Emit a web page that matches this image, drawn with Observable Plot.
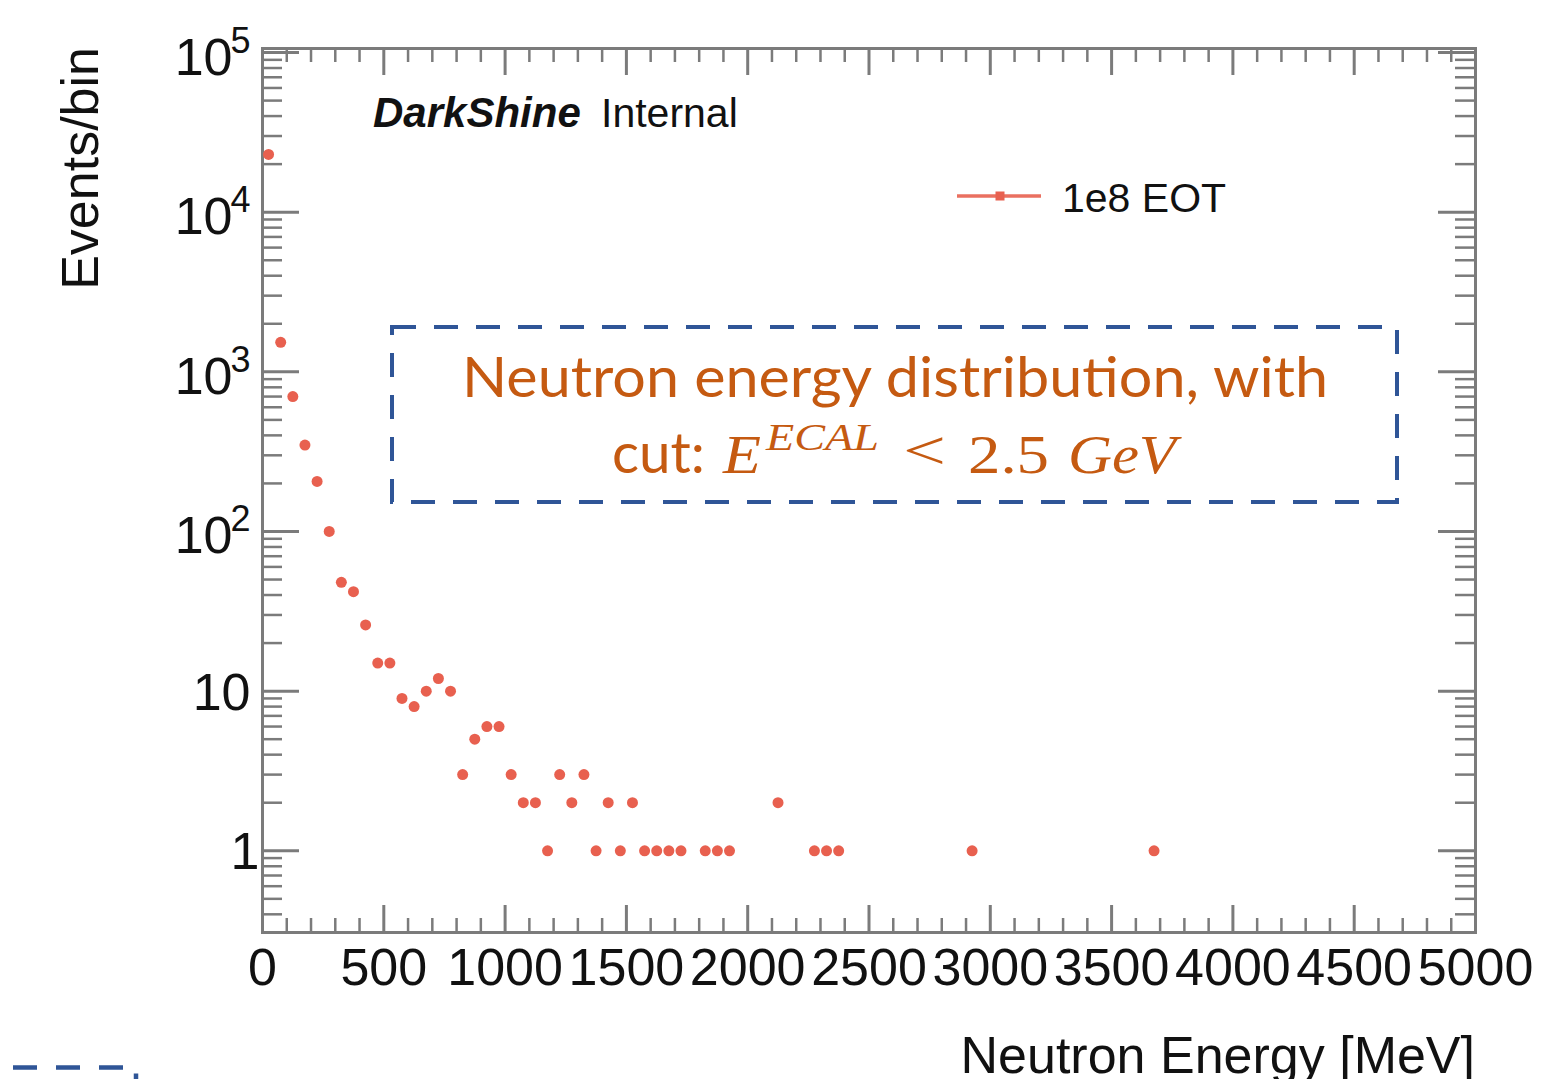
<!DOCTYPE html>
<html>
<head>
<meta charset="utf-8">
<script src="https://cdn.jsdelivr.net/npm/d3@7"></script>
<script src="https://cdn.jsdelivr.net/npm/@observablehq/plot@0.6"></script>
<style>
  html, body { margin: 0; padding: 0; background: #fff; }
  #chart svg { display: block; }
</style>
</head>
<body>
<div id="chart"></div>
<script>
// ---------- data ----------
const binCenters = [25, 75, 125, 175, 225, 275, 325, 375, 425, 475, 525, 575, 625, 675, 725, 775,
  825, 875, 925, 975, 1025, 1075, 1125, 1175, 1225, 1275, 1325, 1375, 1425, 1475, 1525,
  1575, 1625, 1675, 1725, 1825, 1875, 1925, 2125, 2275, 2325, 2375, 2925, 3675];
const counts = [23000, 1530, 700, 348, 206, 100, 48, 42, 26, 15, 15, 9, 8, 10, 12, 10,
  3, 5, 6, 6, 3, 2, 2, 1, 3, 2, 3, 1, 2, 1, 2,
  1, 1, 1, 1, 1, 1, 1, 2, 1, 1, 1, 1, 1];

const xMajorTicks = [0, 500, 1000, 1500, 2000, 2500, 3000, 3500, 4000, 4500, 5000];
const xMinorTicks = d3.range(100, 5000, 100).filter(v => v % 500 !== 0);
const yMajorTicks = [1, 10, 100, 1000, 10000, 100000];
const yMinorTicks = [0.4, 0.5, 0.6, 0.7, 0.8, 0.9,
  2, 3, 4, 5, 6, 7, 8, 9,
  20, 30, 40, 50, 60, 70, 80, 90,
  200, 300, 400, 500, 600, 700, 800, 900,
  2000, 3000, 4000, 5000, 6000, 7000, 8000, 9000,
  20000, 30000, 40000, 50000, 60000, 70000, 80000, 90000];
const yLabelOne = [1];
const yLabelTen = [10];
const yLabelPowers = [{v: 100, e: "2"}, {v: 1000, e: "3"}, {v: 10000, e: "4"}, {v: 100000, e: "5"}];

const seriesName = "1e8 EOT";
const xTitle = "Neutron Energy [MeV]";
const yTitle = "Events/bin";

const data = binCenters.map((x, i) => ({energy: x, events: counts[i]}));

// ---------- layout ----------
const W = 1545, H = 1079;
const mL = 262, mR = 70, mT = 48, mB = 147;
const plotW = W - mL - mR, plotH = H - mT - mB;
const axisColor = "#7b7b7b";
const pointColor = "#e8604f";
const FONT = "'Liberation Sans', Arial, Helvetica, sans-serif";

const chart = Plot.plot({
  width: W, height: H,
  marginLeft: mL, marginRight: mR, marginTop: mT, marginBottom: mB,
  style: {background: "#fff", fontFamily: FONT, overflow: "visible"},
  x: {domain: [0, 5000], axis: null},
  y: {type: "log", domain: [0.3077, 106000], axis: null},
  marks: [
    // bottom ticks
    Plot.ruleX(xMajorTicks, {x: d => d, insetTop: plotH - 27, stroke: axisColor, strokeWidth: 3}),
    Plot.ruleX(xMinorTicks, {x: d => d, insetTop: plotH - 14, stroke: axisColor, strokeWidth: 2.5}),
    // top ticks
    Plot.ruleX(xMajorTicks, {x: d => d, insetBottom: plotH - 27, stroke: axisColor, strokeWidth: 3}),
    Plot.ruleX(xMinorTicks, {x: d => d, insetBottom: plotH - 14, stroke: axisColor, strokeWidth: 2.5}),
    // left ticks
    Plot.ruleY(yMajorTicks, {y: d => d, insetRight: plotW - 37, stroke: axisColor, strokeWidth: 3}),
    Plot.ruleY(yMinorTicks, {y: d => d, insetRight: plotW - 20, stroke: axisColor, strokeWidth: 2.5}),
    // right ticks
    Plot.ruleY(yMajorTicks, {y: d => d, insetLeft: plotW - 37, stroke: axisColor, strokeWidth: 3}),
    Plot.ruleY(yMinorTicks, {y: d => d, insetLeft: plotW - 20, stroke: axisColor, strokeWidth: 2.5}),
    Plot.frame({stroke: axisColor, strokeWidth: 3}),
    // data points
    Plot.dot(data, {x: "energy", y: "events", r: 5.5, fill: pointColor, stroke: "none"}),
    // x tick labels
    Plot.text(xMajorTicks, {x: d => d, text: d => String(d), frameAnchor: "bottom", lineAnchor: "bottom",
      dy: 52, fontSize: 52, fill: "#111", textAnchor: "middle"}),
    // y tick labels
    Plot.text(yLabelOne, {y: d => d, text: d => "1", frameAnchor: "left", textAnchor: "end",
      lineAnchor: "bottom", dx: -3, dy: 18, fontSize: 52, fill: "#111"}),
    Plot.text(yLabelTen, {y: d => d, text: d => "10", frameAnchor: "left", textAnchor: "end",
      lineAnchor: "bottom", dx: -12, dy: 19, fontSize: 52, fill: "#111"}),
    Plot.text(yLabelPowers, {y: "v", text: d => "10", frameAnchor: "left", textAnchor: "end",
      lineAnchor: "bottom", dx: -30, dy: 22, fontSize: 52, fill: "#111"}),
    Plot.text(yLabelPowers, {y: "v", text: "e", frameAnchor: "left", textAnchor: "end",
      lineAnchor: "bottom", dx: -12, dy: 0, fontSize: 36, fill: "#111"})
  ]
});

document.getElementById("chart").appendChild(chart);

// ---------- annotations ----------
const svg = d3.select(chart);

// axis titles
svg.append("text")
  .attr("transform", "translate(98,47) rotate(-90)")
  .attr("text-anchor", "end")
  .attr("font-family", FONT).attr("font-size", 52).attr("fill", "#111")
  .text(yTitle);
svg.append("text")
  .attr("x", 1475).attr("y", 1073)
  .attr("text-anchor", "end")
  .attr("font-family", FONT).attr("font-size", 52).attr("fill", "#111")
  .text(xTitle);

// DarkShine Internal
svg.append("text")
  .attr("x", 373).attr("y", 127).attr("text-anchor", "start")
  .attr("font-family", FONT).attr("font-size", 42).attr("font-weight", "bold").attr("font-style", "italic")
  .attr("fill", "#111")
  .text("DarkShine");
svg.append("text")
  .attr("x", 601).attr("y", 127).attr("text-anchor", "start")
  .attr("font-family", FONT).attr("font-size", 41).attr("fill", "#111")
  .text("Internal");

// legend
svg.append("line")
  .attr("x1", 957).attr("x2", 1041).attr("y1", 196).attr("y2", 196)
  .attr("stroke", pointColor).attr("stroke-width", 3.5).attr("stroke-opacity", 0.9);
svg.append("rect")
  .attr("x", 995.5).attr("y", 191.5).attr("width", 9).attr("height", 9)
  .attr("fill", pointColor);
svg.append("text")
  .attr("x", 1062).attr("y", 212).attr("text-anchor", "start")
  .attr("font-family", FONT).attr("font-size", 41).attr("fill", "#111")
  .text(seriesName);

// dashed annotation box
const blue = "#2f5597";
const orange = "#c55a11";
svg.append("rect")
  .attr("x", 392).attr("y", 327).attr("width", 1005).attr("height", 175)
  .attr("fill", "none").attr("stroke", blue).attr("stroke-width", 4)
  .attr("stroke-dasharray", "24 18");

// bottom-left fragment of another dashed box
svg.append("path")
  .attr("d", "M -30 1067.5 H 136 V 1110")
  .attr("fill", "none").attr("stroke", blue).attr("stroke-width", 4.5)
  .attr("stroke-dasharray", "24 19");

// orange text
const SANS = "Lato, 'Open Sans', 'Noto Sans', sans-serif";
const SERIF = "'Liberation Serif', 'DejaVu Serif', serif";
function t(x, y, str, opts) {
  const el = svg.append("text")
    .attr("x", x).attr("y", y).attr("text-anchor", "start")
    .attr("font-family", opts.family).attr("font-size", opts.size)
    .attr("fill", orange)
    .text(str);
  if (opts.italic) el.attr("font-style", "italic");
  if (opts.len) el.attr("textLength", opts.len).attr("lengthAdjust", "spacingAndGlyphs");
  return el;
}
t(462, 397, "Neutron energy distribution, with", {family: SANS, size: 57, len: 866});
t(612, 473, "cut:", {family: SANS, size: 57, len: 93});
t(723, 473, "E", {family: SERIF, size: 54, italic: true, len: 38});
t(766, 450, "ECAL", {family: SERIF, size: 38, italic: true, len: 113});
t(903, 469, "<", {family: SERIF, size: 54, len: 43});
t(968, 473, "2.5", {family: SERIF, size: 54, len: 81});
t(1068, 473, "GeV", {family: SERIF, size: 54, italic: true, len: 108});
</script>
</body>
</html>
